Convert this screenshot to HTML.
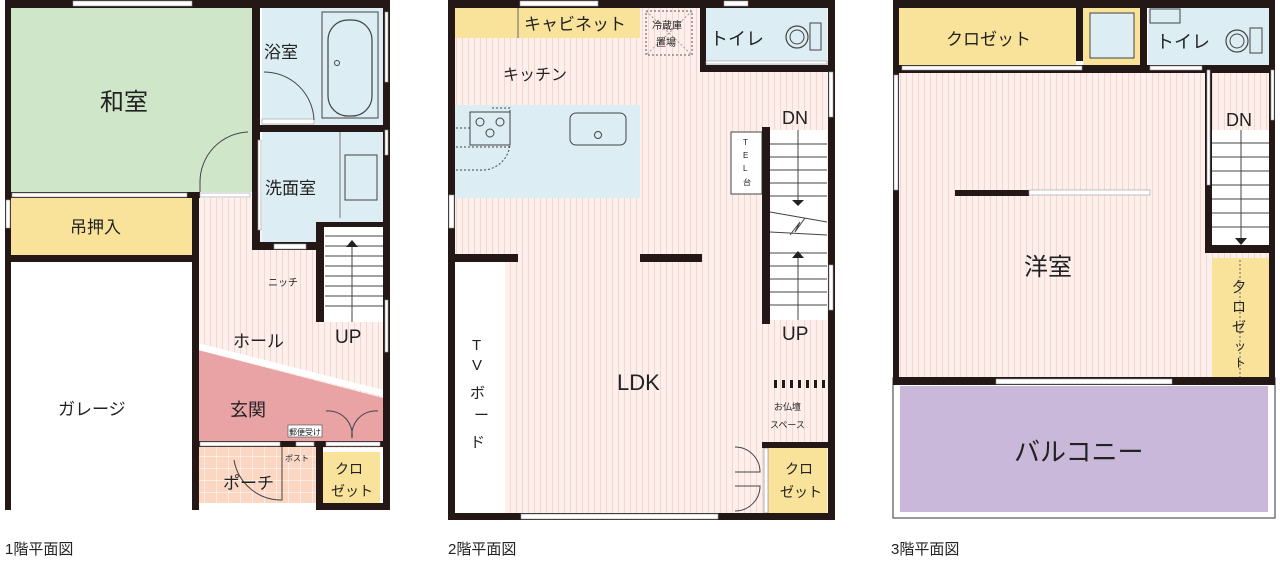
<!DOCTYPE html>
<html><head><meta charset="utf-8"><style>
html,body{margin:0;padding:0;background:#fff;}
svg{display:block;}
text{font-family:"Liberation Sans","Noto Sans CJK JP",sans-serif;fill:#222;}
</style></head><body>
<svg width="1280" height="561" viewBox="0 0 1280 561" xmlns="http://www.w3.org/2000/svg">
<defs>
<pattern id="st" width="6" height="10" patternUnits="userSpaceOnUse">
<rect width="6" height="10" fill="#fdf0ec"/><rect x="0" width="1" height="10" fill="#f5d5ce"/>
</pattern>
<pattern id="tile" width="12" height="12" patternUnits="userSpaceOnUse">
<rect width="12" height="12" fill="#fbd6c2"/><path d="M0 0H12M0 0V12" stroke="#fff" stroke-width="1" fill="none"/>
</pattern>
</defs>

<!-- ============ PLAN 1 ============ -->
<rect x="198" y="198" width="185" height="250" fill="url(#st)"/>
<rect x="10" y="8" width="242" height="184" fill="#cfe6c9"/>
<rect x="10" y="198" width="182" height="57" fill="#f9e29a"/>
<rect x="262" y="8" width="121" height="117" fill="#dcedf4"/>
<rect x="262" y="132" width="121" height="113" fill="#dcedf4"/>
<rect x="322" y="226" width="61" height="96" fill="#fff"/>
<g stroke="#444" stroke-width="1">
<line x1="325" y1="236" x2="383" y2="236"/><line x1="325" y1="246" x2="383" y2="246"/><line x1="325" y1="256" x2="383" y2="256"/><line x1="325" y1="266" x2="383" y2="266"/><line x1="325" y1="276" x2="383" y2="276"/><line x1="325" y1="286" x2="383" y2="286"/><line x1="325" y1="296" x2="383" y2="296"/><line x1="325" y1="306" x2="383" y2="306"/>
<line x1="352" y1="245" x2="352" y2="322"/></g>
<polygon points="346,247 358,247 352,240" fill="#222"/>
<polygon points="198,350 383,398 383,443 198,443" fill="#e9a3a5"/>
<polygon points="198,343 383,390 383,396 198,350" fill="#fff"/>
<rect x="198" y="447" width="120" height="56" fill="url(#tile)"/>
<rect x="323" y="452" width="57" height="51" fill="#f9e29a"/>
<g fill="#231815">
<rect x="5" y="0" width="383" height="8"/>
<rect x="5" y="0" width="6" height="510"/>
<rect x="383" y="0" width="7" height="510"/>
<rect x="252" y="0" width="8" height="250"/>
<rect x="10" y="192" width="190" height="6"/>
<rect x="10" y="255" width="188" height="7"/>
<rect x="192" y="192" width="7" height="318"/>
<rect x="258" y="125" width="130" height="7"/>
<rect x="254" y="242" width="70" height="8"/>
<rect x="316" y="222" width="8" height="100"/>
<rect x="316" y="222" width="70" height="5"/>
<rect x="192" y="441" width="196" height="6"/>
<rect x="316" y="447" width="7" height="63"/>
<rect x="316" y="503" width="74" height="7"/>
</g>
<g fill="#fff" stroke="#999" stroke-width="0.6">
<rect x="73" y="1" width="119" height="5"/>
<rect x="12" y="193" width="175" height="4"/>
<rect x="200" y="193" width="50" height="4"/>
<rect x="262" y="119" width="52" height="5"/>
<rect x="274" y="244" width="32" height="5"/>
<rect x="200" y="442" width="80" height="4"/>
<rect x="296" y="442" width="18" height="4"/>
<rect x="326" y="442" width="54" height="4"/>
<rect x="385" y="12" width="3" height="70"/>
<rect x="385" y="130" width="3" height="25"/>
<rect x="385" y="300" width="3" height="52"/>
<rect x="6" y="200" width="4" height="28"/>
<rect x="258" y="140" width="3" height="90"/>
</g>
<rect x="322" y="12" width="56" height="106" fill="none" stroke="#444"/>
<rect x="328" y="20" width="44" height="96" rx="20" fill="none" stroke="#444" stroke-width="1.2"/>
<circle cx="337" cy="63" r="2.5" fill="none" stroke="#444"/>
<line x1="340" y1="132" x2="340" y2="218" stroke="#777"/>
<rect x="345" y="155" width="32" height="45" fill="none" stroke="#444"/>
<path d="M264 72 A50 50 0 0 1 314 120" fill="none" stroke="#444"/>
<path d="M248 132 A50 50 0 0 0 200 182 V192" fill="none" stroke="#444"/>
<path d="M234 460 A48 48 0 0 0 282 500 V447" fill="none" stroke="#444"/>
<path d="M326 411 A24 24 0 0 1 352 438 M378 411 A24 24 0 0 0 352 438" fill="none" stroke="#444"/>
<rect x="288" y="425" width="34" height="12" fill="#fff" stroke="#444" stroke-width="0.6"/>
<text x="289" y="435" font-size="8">郵便受け</text>
<text x="285" y="461" font-size="8">ポスト</text>
<text x="268" y="286" font-size="10">ニッチ</text>
<text x="100" y="110" font-size="24">和室</text>
<text x="70" y="233" font-size="17">吊押入</text>
<text x="264" y="58" font-size="17">浴室</text>
<text x="265" y="194" font-size="17">洗面室</text>
<text x="233" y="347" font-size="17">ホール</text>
<text x="335" y="343" font-size="19">UP</text>
<text x="58" y="415" font-size="17">ガレージ</text>
<text x="230" y="416" font-size="18">玄関</text>
<text x="223" y="489" font-size="17">ポーチ</text>
<text x="335" y="474" font-size="14">クロ</text>
<text x="331" y="496" font-size="14">ゼット</text>
<text x="5" y="554" font-size="15">1階平面図</text>

<!-- ============ PLAN 2 ============ -->
<rect x="455" y="8" width="375" height="510" fill="url(#st)"/>
<rect x="455" y="8" width="185" height="30" fill="#f9e29a"/>
<line x1="518" y1="8" x2="518" y2="38" stroke="#666"/>
<rect x="646" y="11" width="46" height="44" fill="none" stroke="#555" stroke-dasharray="2,2"/>
<path d="M646 11 L692 55 M692 11 L646 55" stroke="#999" stroke-dasharray="2,2"/>
<text x="652" y="29" font-size="10">冷蔵庫</text><text x="656" y="46" font-size="10">置場</text>
<rect x="706" y="8" width="121" height="57" fill="#dcedf4"/>
<rect x="455" y="105" width="185" height="93" fill="#dcedf4"/>
<rect x="470" y="112" width="40" height="33" fill="none" stroke="#444"/>
<circle cx="480" cy="122" r="4" fill="none" stroke="#444"/><circle cx="500" cy="122" r="4" fill="none" stroke="#444"/><circle cx="490" cy="133" r="4" fill="none" stroke="#444"/>
<path d="M456 128 H470 M456 147 H510 M456 170 H480 A28 28 0 0 0 510 140 V108 H490" fill="none" stroke="#444" stroke-dasharray="2,2"/>
<rect x="570" y="113" width="56" height="32" rx="6" fill="none" stroke="#444"/>
<circle cx="598" cy="135" r="3.5" fill="none" stroke="#444"/>
<rect x="455" y="262" width="50" height="253" fill="#fff"/>
<rect x="770" y="130" width="57" height="190" fill="#fff"/>
<g stroke="#444" stroke-width="1">
<line x1="770" y1="144" x2="827" y2="144"/><line x1="770" y1="157" x2="827" y2="157"/><line x1="770" y1="170" x2="827" y2="170"/><line x1="770" y1="183" x2="827" y2="183"/><line x1="770" y1="196" x2="827" y2="196"/>
<line x1="770" y1="253" x2="827" y2="253"/><line x1="770" y1="266" x2="827" y2="266"/><line x1="770" y1="279" x2="827" y2="279"/><line x1="770" y1="292" x2="827" y2="292"/><line x1="770" y1="305" x2="827" y2="305"/>
<path d="M770 212 L827 222 M770 232 L827 235 M798 130 V200 M798 255 V320 M790 235 L800 222 L795 232 L805 218" fill="none"/></g>
<polygon points="792,200 804,200 798,206" fill="#222"/>
<polygon points="792,258 804,258 798,251" fill="#222"/>
<rect x="731" y="132" width="31" height="62" fill="#fff" stroke="#444"/>
<text x="743" y="145" font-size="8">T</text><text x="743" y="158" font-size="8">E</text><text x="743" y="171" font-size="8">L</text><text x="743" y="185" font-size="8">台</text>
<rect x="768" y="448" width="59" height="65" fill="#f9e29a"/>
<rect x="764" y="448" width="4" height="65" fill="#fff" stroke="#666" stroke-width="0.5"/>
<path d="M735 447 A25 25 0 0 1 760 472 H735 M735 511 A25 25 0 0 0 760 486 H735" fill="none" stroke="#444"/>
<g fill="#231815">
<rect x="774" y="380" width="3" height="8"/><rect x="782" y="380" width="3" height="8"/><rect x="790" y="380" width="3" height="8"/><rect x="798" y="380" width="3" height="8"/><rect x="806" y="380" width="3" height="8"/><rect x="814" y="380" width="3" height="8"/><rect x="822" y="380" width="3" height="8"/>
</g>
<g fill="#231815">
<rect x="448" y="0" width="387" height="8"/>
<rect x="448" y="0" width="7" height="520"/>
<rect x="828" y="0" width="7" height="520"/>
<rect x="448" y="513" width="387" height="7"/>
<rect x="700" y="0" width="6" height="72"/>
<rect x="700" y="65" width="130" height="7"/>
<rect x="455" y="254" width="63" height="8"/>
<rect x="640" y="254" width="62" height="8"/>
<rect x="762" y="127" width="8" height="197"/>
<rect x="762" y="442" width="70" height="6"/>
</g>
<g fill="#fff" stroke="#999" stroke-width="0.6">
<rect x="520" y="1" width="78" height="5"/><rect x="724" y="1" width="24" height="5"/>
<rect x="521" y="514" width="197" height="5"/>
<rect x="449" y="195" width="5" height="33"/>
<rect x="829" y="72" width="4" height="45"/><rect x="829" y="265" width="4" height="45"/>
<rect x="706" y="61" width="121" height="3"/>
</g>
<circle cx="797" cy="37" r="11" fill="none" stroke="#444" stroke-width="1.2"/><circle cx="797" cy="37" r="7" fill="none" stroke="#444"/>
<rect x="810" y="23" width="11" height="27" fill="none" stroke="#444"/>
<text x="710" y="45" font-size="18">トイレ</text>
<text x="524" y="30" font-size="17">キャビネット</text>
<text x="503" y="80" font-size="16">キッチン</text>
<text x="782" y="124" font-size="18">DN</text>
<text x="782" y="340" font-size="19">UP</text>
<text x="617" y="390" font-size="22">LDK</text>
<text x="774" y="410" font-size="9">お仏壇</text>
<text x="770" y="428" font-size="9">スペース</text>
<text x="785" y="474" font-size="14">クロ</text>
<text x="780" y="497" font-size="14">ゼット</text>
<text x="472" y="350" font-size="15">T</text><text x="472" y="370" font-size="15">V</text><text x="470" y="398" font-size="15">ボ</text><text x="474" y="420" font-size="15">ー</text><text x="470" y="447" font-size="15">ド</text>
<text x="448" y="554" font-size="15">2階平面図</text>

<!-- ============ PLAN 3 ============ -->
<rect x="893" y="378" width="382" height="140" fill="#fff" stroke="#555" stroke-width="1.2"/>
<rect x="900" y="386" width="368" height="126" fill="#c9b8d9"/>
<rect x="898" y="73" width="372" height="305" fill="url(#st)"/>
<rect x="898" y="8" width="178" height="57" fill="#f9e29a"/>
<rect x="1083" y="8" width="57" height="57" fill="#f9e29a"/>
<rect x="1090" y="13" width="44" height="45" fill="#dcedf4" stroke="#444"/>
<rect x="1148" y="8" width="122" height="57" fill="#dcedf4"/>
<rect x="1212" y="130" width="58" height="115" fill="#fff"/>
<g stroke="#444" stroke-width="1">
<line x1="1212" y1="143" x2="1270" y2="143"/><line x1="1212" y1="157" x2="1270" y2="157"/><line x1="1212" y1="171" x2="1270" y2="171"/><line x1="1212" y1="185" x2="1270" y2="185"/><line x1="1212" y1="199" x2="1270" y2="199"/><line x1="1212" y1="213" x2="1270" y2="213"/><line x1="1212" y1="227" x2="1270" y2="227"/>
<line x1="1241" y1="130" x2="1241" y2="240"/></g>
<polygon points="1235,238 1247,238 1241,245" fill="#222"/>
<rect x="1212" y="258" width="58" height="120" fill="#f9e29a"/>
<line x1="1240" y1="260" x2="1240" y2="380" stroke="#666" stroke-dasharray="2,2"/>
<g fill="#231815">
<rect x="893" y="0" width="382" height="8"/>
<rect x="893" y="0" width="6" height="385"/>
<rect x="1269" y="0" width="6" height="385"/>
<rect x="1076" y="8" width="7" height="53"/>
<rect x="1140" y="0" width="7" height="72"/>
<rect x="893" y="65" width="382" height="8"/>
<rect x="1205" y="68" width="7" height="185"/>
<rect x="1205" y="245" width="70" height="8"/>
<rect x="893" y="377" width="382" height="8"/>
<rect x="955" y="190" width="74" height="6"/>
</g>
<g fill="#fff" stroke="#999" stroke-width="0.6">
<rect x="1029" y="190" width="121" height="5"/>
<rect x="902" y="66" width="180" height="4"/>
<rect x="1150" y="66" width="52" height="4"/>
<rect x="996" y="379" width="176" height="5"/>
<rect x="894" y="75" width="4" height="115"/>
<rect x="1271" y="70" width="3" height="50"/>
<rect x="1207" y="70" width="3" height="115"/>
</g>
<rect x="1150" y="9" width="30" height="14" fill="none" stroke="#444"/>
<circle cx="1237" cy="41" r="11" fill="none" stroke="#444" stroke-width="1.2"/><circle cx="1237" cy="41" r="7" fill="none" stroke="#444"/>
<rect x="1250" y="28" width="12" height="25" fill="none" stroke="#444"/>
<text x="946" y="45" font-size="17">クロゼット</text>
<text x="1156" y="48" font-size="18">トイレ</text>
<text x="1226" y="126" font-size="18">DN</text>
<text x="1024" y="275" font-size="24">洋室</text>
<text x="1014" y="461" font-size="26">バルコニー</text>
<text x="1232" y="292" font-size="14">夕</text><text x="1232" y="312" font-size="14">ロ</text><text x="1232" y="332" font-size="14">ゼ</text><text x="1234" y="350" font-size="12">ッ</text><text x="1234" y="367" font-size="12">ト</text>
<text x="891" y="554" font-size="15">3階平面図</text>
</svg>
</body></html>
